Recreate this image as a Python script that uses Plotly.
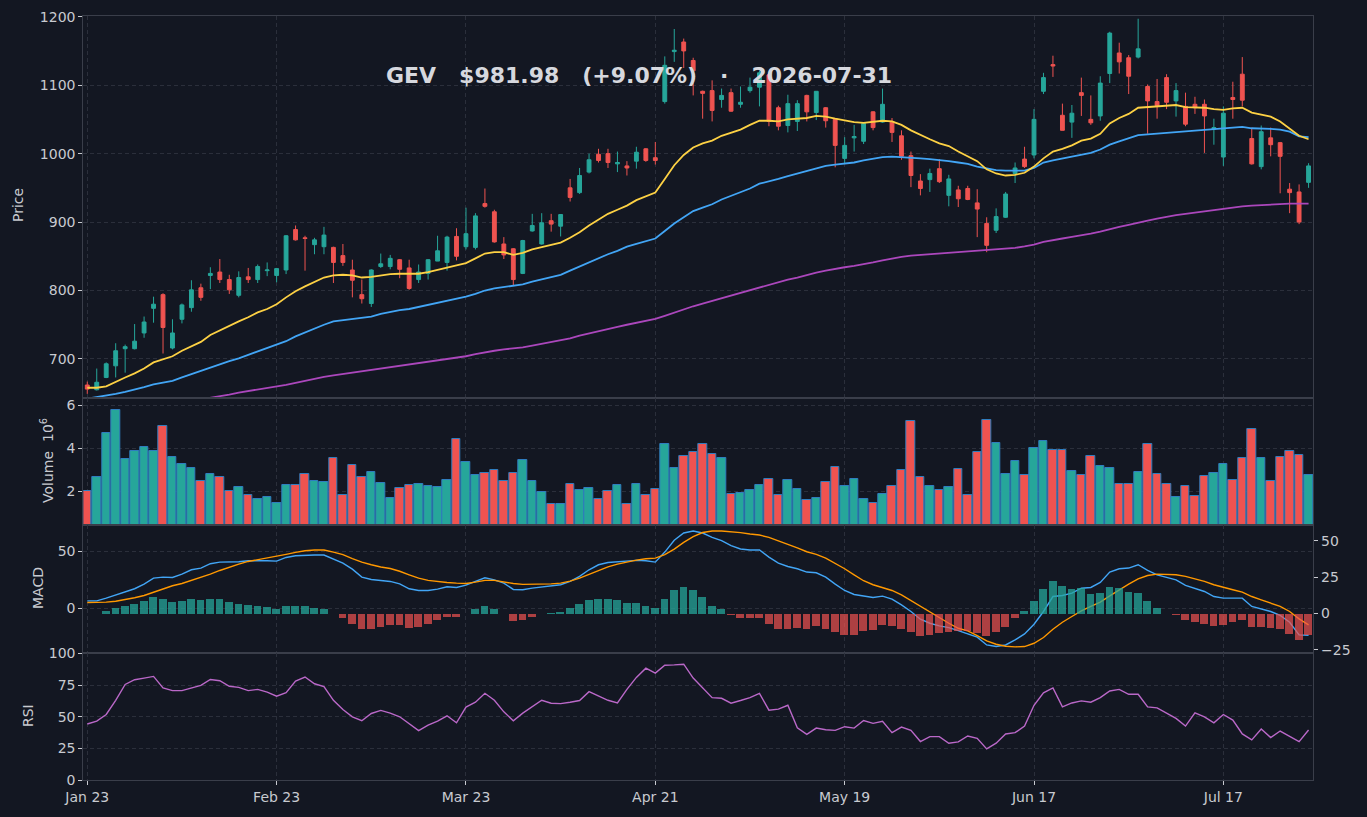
import plotly.graph_objects as go

# ---------------- data ----------------
tick_labels = ["Jan 23", "Feb 23", "Mar 23", "Apr 21", "May 19", "Jun 17", "Jul 17"]
tick_every = 20

open_ = [662,655,673,690,715,715,738,774,794,716,758,775,804,822,827,816,793,820,816,829,
         822,830,889,877,867,864,863,851,830,794,781,835,835,845,833,816,825,843,841,879,
         864,863,927,915,868,861,825,887,868,902,894,950,943,973,999,1000,985,982,989,1007,
         994,1076,1149,1163,1136,1091,1092,1079,1089,1072,1092,1097,1115,1067,1041,1047,1085,1060,1067,1051,
         993,1023,1018,1061,1046,1047,1026,997,960,962,978,939,947,949,928,898,888,907,971,992,
         998,1091,1130,1056,1046,1089,1050,1055,1117,1147,1140,1141,1098,1076,1111,1077,1069,1072,1072,1036,
         995,1082,1116,1022,981,1023,1016,948,944,958]
high = [667,686,695,723,721,751,762,791,796,758,781,815,810,834,846,823,828,833,838,841,
        833,881,895,880,877,893,864,868,845,816,831,854,852,846,845,838,846,880,880,891,
        921,913,949,918,878,862,874,912,913,912,911,963,979,1000,1007,1007,1003,989,1010,1008,
        1017,1142,1182,1168,1140,1092,1107,1095,1095,1098,1111,1121,1118,1070,1086,1078,1086,1091,1068,1052,
        1024,1042,1045,1062,1095,1052,1034,1003,970,978,992,969,953,953,948,907,920,944,987,1010,
        1065,1118,1143,1073,1071,1111,1085,1113,1178,1162,1144,1197,1101,1109,1116,1103,1089,1083,1079,1051,
        1069,1105,1141,1038,1041,1038,1017,957,955,986]
low = [649,654,672,673,680,714,731,753,708,714,752,769,785,802,811,795,790,811,811,821,
       812,824,873,829,853,853,811,836,790,781,776,833,831,818,801,811,816,843,829,844,
       860,860,921,870,846,807,824,886,867,886,879,930,941,971,987,979,973,968,978,988,
       984,1073,1134,1125,1085,1051,1047,1067,1061,1067,1089,1069,1040,1034,1031,1033,1047,1049,1038,980,
       985,1003,1014,1034,1045,1017,991,951,939,944,957,923,922,932,878,856,884,906,957,979,
       993,1087,1112,1034,1023,1055,1042,1048,1103,1117,1087,1139,1029,1051,1065,1054,1040,1058,1001,1013,
       982,1051,1069,984,977,996,942,913,897,950]
close = [656,666,693,712,718,726,754,780,746,738,779,801,790,825,816,801,819,816,835,830,
         832,880,874,876,874,881,841,841,815,788,830,839,847,831,803,827,845,858,878,850,
         883,909,923,871,852,816,873,895,899,897,911,936,968,991,990,987,987,979,1002,990,
         990,1129,1151,1150,1121,1088,1063,1085,1062,1075,1097,1118,1047,1040,1073,1073,1061,1091,1048,1012,
         1012,1025,1044,1038,1072,1031,996,968,949,971,959,963,934,933,919,866,908,941,979,981,
         1050,1111,1128,1034,1059,1085,1045,1103,1176,1134,1113,1153,1077,1070,1075,1092,1043,1067,1055,1038,
         1059,1079,1078,985,1032,1013,996,943,900,982]

ma_fast = [658,658,660,667,673,679,686,695,700,704,712,719,725,735,742,749,755,761,768,773,
           780,790,799,806,812,819,822,823,822,819,820,822,824,824.5,824,824.5,827,830,834,836,
           840,847,854,856,856,852,855,860,863,866,870,877,885,895,903,912,918,924,932,938,
           943,963,983,998,1009,1015,1019,1026,1030,1035,1042,1048,1048,1047,1050,1051,1052,1055,1054,1051,
           1048,1046,1045,1046,1048,1047,1042,1034,1027,1021,1015,1011,1003,996,989,977,971,968,969,972,
           981,993,1003,1007,1012,1019,1022,1029,1044,1052,1058,1067,1068,1069,1069,1071,1068,1068,1067,1065,
           1064,1066,1067,1060,1057,1054,1047,1036,1026,1021]
ma_mid = [642,644,647,649,652,655,659,663,666,668,673,678,682,688,693,697,701,706,711,715,
          720,726,733,739,745,750,755,757,759,760,762,766,769,771.5,773,776,778,781,784,787,
          791,795,800,803,805,806,809,813,816,820,823,829,835,841,848,853,858,864,868,872,
          876,887,898,907,916,921,926,933,938,943,949,956,959,963,967,971,975,979,982,984,
          985,987,990,993,995,995.5,995,994,993,992,991,989,987,985,981,978,976,975,974.5,975,
          979,987,990,993,996,999,1001,1006,1013,1018,1023,1027,1028,1029,1031,1032,1033,1034,1035,1035,
          1036,1038,1039,1037,1037,1036,1035,1032,1025,1024]
ma_slow = [613,615,617,619,621,624,626,628,631,633,636,638,641,643,646,648,651,653,656,658,
           660,662,665,668,672,674,676,678,679,681,683,685,687,689.5,691,693,695,697.5,699.5,702,
           704,707,710,712,714,715,717,719.5,722,724,727,730,734,737.5,741,744,747,750,753,756,
           758.5,763,768,773,777,781,785,789,793,797,801,805,809,812.5,816,819,823,826,829,832,
           834,836,838,841,844,847,849,851,852,853,854.5,855.5,856.5,857.5,858.5,859,859.5,861,862.3,864.4,
           867,871,874,876,878.5,880.5,883,886,890,893,896,899.5,902,905,908,910,912,914,916,917,
           919,921,923,924,925,926,927,927,927,927]

volume_m = [2.0,2.65,4.70,5.77,3.49,3.86,4.05,3.86,5.02,3.58,3.25,3.07,2.46,2.79,2.65,2.0,2.19,1.81,1.63,1.72,
            1.44,2.28,2.28,2.79,2.46,2.42,3.53,1.81,3.21,2.65,2.88,2.37,1.69,2.14,2.28,2.32,2.23,2.19,2.51,4.42,
            3.35,2.74,2.84,2.98,2.46,2.84,3.44,2.46,1.95,1.39,1.39,2.32,2.05,2.14,1.63,2.0,2.28,1.39,2.32,1.81,
            2.09,4.19,3.07,3.63,3.81,4.19,3.72,3.53,1.86,1.91,2.05,2.28,2.56,1.81,2.51,2.09,1.58,1.67,2.42,3.12,
            2.23,2.56,1.63,1.44,1.86,2.23,2.98,5.25,2.65,2.23,2.05,2.19,3.02,1.81,3.81,5.30,4.23,2.79,3.39,2.74,
            4.0,4.32,3.91,3.91,2.93,2.74,3.63,3.16,3.07,2.32,2.32,2.88,4.19,2.79,2.32,1.72,2.23,1.77,2.70,2.84,
            3.25,2.51,3.53,4.88,3.53,2.46,3.58,3.86,3.67,2.74]

macd = [6.7,6.7,9.1,12,14.6,17.3,21.3,26.6,27.5,27.2,30.1,33.9,35.4,39.2,40.6,40.6,40.9,41.8,42.1,41.8,
        41.5,44.7,46.2,46.8,46.8,46.8,43.3,39.8,34.5,27.5,25.4,24.3,23.7,21.6,17.3,15.8,15.8,17,19,18.4,
        20.5,23.7,26.9,25.1,22.2,16.7,16.4,17.8,19,19.6,20.8,23.7,28.1,33.9,38.3,40.3,40.9,40.9,42.1,41.8,
        40.6,49.4,59.7,66.1,67.8,66.1,62.3,59.4,55,52.1,51.2,51.2,45,39.8,36.8,34.8,31.9,31.3,27.5,21.3,
        15.8,12.3,10.8,9.6,10.8,8.2,3.2,-2.6,-9.4,-12.9,-15.2,-16.7,-19.3,-21.9,-25.1,-31.9,-33.3,-31.9,-27.5,-22.2,
        -13.7,-2.6,10.5,11.4,13.5,17.8,18.4,22.8,31.9,34.8,35.4,38.3,33.3,29.5,27.2,25.1,20.2,17.8,14.9,10.5,
        9.1,9.1,9.1,1.8,-0.3,-2.6,-6.1,-12,-23.1,-23.4]
signal = [5.3,5.3,5.6,6.4,7.6,9.4,11.4,14.3,17.3,19.9,21.9,24.6,27.2,30.1,33.3,36.3,38.9,41.2,42.7,44.1,
          45.3,47.4,49.1,50.6,51.2,51.2,49.4,47.1,43.6,40.6,38.3,36.3,35,32.6,29.5,26.6,24.6,23.4,22.8,22.2,
          21.9,23.1,24.6,24.6,23.1,21.9,21.1,21.1,21.1,21.6,22.2,24,26.6,30.1,33.3,36.5,38.9,40.9,42.4,43.6,
          44.1,47.1,52,57.9,62.9,66.5,67.8,67.8,67.3,66.4,65.2,64.3,62.3,59.4,55.9,53,49.7,47.4,44.1,39.8,
          34.8,29.5,24.3,20.8,18.4,15.8,12,7,1.8,-3.2,-7.9,-12.9,-17.3,-19.6,-23.7,-28.4,-31.3,-33,-33.6,-33.3,
          -30.4,-25.4,-18.1,-12,-7,-2,1.8,5.6,11.1,16.4,21.3,26,28.9,30.1,30.1,29.5,28.1,26,23.7,20.8,
          18.4,16.4,14.3,10.5,7.6,4.7,1.8,-2.6,-9.1,-14.3]
hist = [-0.4,-0.4,1.6,3.5,4.9,6.3,8.3,11.1,9.7,7.6,8.3,9.7,9.0,9.7,9.7,7.6,6.3,5.6,4.9,4.2,
        2.8,4.9,4.9,4.9,3.5,2.8,-0.4,-3.4,-6.9,-10.3,-10.3,-9.0,-7.6,-7.6,-9.6,-9.0,-6.9,-4.6,-2.1,-2.1,
        -0.2,2.8,4.9,2.8,-0.4,-4.8,-4.1,-2.1,-0.4,0.2,1.4,3.5,6.3,9.0,10.3,9.7,9.0,6.9,6.9,4.9,
        3.5,10.3,15.9,17.9,15.9,11.1,5.5,3.0,-1.1,-3.4,-3.4,-2.8,-6.9,-10.3,-10.3,-9.6,-10.3,-8.3,-10.3,-13,
        -14.4,-14.4,-12.3,-11,-7.6,-8.3,-10.3,-13,-15.1,-14.4,-13.7,-13,-12.3,-12.3,-13.7,-15.1,-13,-9,-2.8,1.6,
        8.5,16.6,22.1,18.9,16.6,17.3,13.1,13.8,18,17.3,14.5,13.8,8.3,3.5,0,-0.9,-4.6,-6,-7.3,-8.7,
        -8,-6,-4.6,-9.3,-9.3,-10,-10.7,-14.2,-18.3,-14.8]
rsi = [44.3,46.6,51.8,63,75.5,79.2,80.5,81.8,72.7,70.6,70.6,72.9,74.7,79.4,78.4,74,73.2,70.6,71.6,69.5,
       66.2,69,78.1,81.3,76,73.7,63,55.7,50,46.9,52.6,55,52.9,50,44.8,39.1,43.5,46.6,50.8,45.3,
       57.6,61.5,68.5,63,53.9,46.9,52.9,58.1,63,60.7,60.4,61.5,62.8,69.8,66.4,63,61,71.6,81,88.3,
       84.4,90.6,90.9,91.4,80.5,72.5,65.1,64.6,60.7,62.8,65.1,68.5,55.2,56,59.1,41.4,36.2,41.1,39.8,39.3,
       42.2,41.1,47.1,44.8,46.4,37.5,41.9,39.3,30.5,34.4,34.4,29.2,30.2,34.9,33.1,24.7,29.2,36.5,37.5,42.7,
       59.1,68.8,72.7,57.8,60.9,62.5,61.5,65.1,70.3,71.6,67.7,67.7,57.8,57,52.6,48.7,42.7,53.1,50,45.3,
       51.8,47.4,36.5,31.8,40.4,33.6,38.8,34.4,30.5,39.6]

title_text = "GEV\u00a0\u00a0\u00a0$981.98\u00a0\u00a0\u00a0(+9.07%)\u00a0\u00a0\u00a0·\u00a0\u00a0\u00a02026-07-31"

# ---------------- styling ----------------
BG = "#131722"
GRID = "#2b2f3b"
SPINE = "#3a3e4a"
TXT = "#c8cad0"
UP = "#26a69a"
DOWN = "#ef5350"
FONT = "DejaVu Sans"

n = len(close)
idx = list(range(n))
tick_pos = [i * tick_every for i in range(len(tick_labels))]
vol_colors = [UP if c >= o else DOWN for o, c in zip(open_, close)]
hist_colors = ["rgba(38,166,154,0.75)" if h >= 0 else "rgba(239,83,80,0.7)" for h in hist]

W, H = 1367, 817
def px_x(p):
    return p / W
def px_y(p):
    return 1 - p / H

xdom = [px_x(83.3), px_x(1313.3)]
dom_price = [px_y(398), px_y(16)]
dom_vol = [px_y(525), px_y(398)]
dom_macd = [px_y(653.3), px_y(525)]
dom_rsi = [px_y(780.3), px_y(653.3)]

fig = go.Figure()

fig.add_trace(go.Candlestick(
    x=idx, open=open_, high=high, low=low, close=close,
    xaxis="x", yaxis="y",
    increasing=dict(line=dict(color=UP, width=1), fillcolor=UP),
    decreasing=dict(line=dict(color=DOWN, width=1), fillcolor=DOWN),
    whiskerwidth=0, showlegend=False, hoverinfo="skip",
))
fig.add_trace(go.Scatter(x=idx, y=ma_slow, mode="lines", line=dict(color="#ab47bc", width=1.8),
                         xaxis="x", yaxis="y", showlegend=False, hoverinfo="skip"))
fig.add_trace(go.Scatter(x=idx, y=ma_mid, mode="lines", line=dict(color="#42a5f5", width=1.8),
                         xaxis="x", yaxis="y", showlegend=False, hoverinfo="skip"))
fig.add_trace(go.Scatter(x=idx, y=ma_fast, mode="lines", line=dict(color="#fdd144", width=1.8),
                         xaxis="x", yaxis="y", showlegend=False, hoverinfo="skip"))

fig.add_trace(go.Bar(x=idx, y=volume_m, width=0.9, marker=dict(color=vol_colors,
                     line=dict(color="#2f7dbf", width=1)),
                     xaxis="x2", yaxis="y2", showlegend=False, hoverinfo="skip"))

fig.add_trace(go.Bar(x=idx, y=hist, width=0.82, marker=dict(color=hist_colors, line=dict(width=0)),
                     xaxis="x3", yaxis="y4", showlegend=False, hoverinfo="skip"))
fig.add_trace(go.Scatter(x=idx, y=macd, mode="lines", line=dict(color="#42a5f5", width=1.4),
                         xaxis="x3", yaxis="y3", showlegend=False, hoverinfo="skip"))
fig.add_trace(go.Scatter(x=idx, y=signal, mode="lines", line=dict(color="#ff9800", width=1.4),
                         xaxis="x3", yaxis="y3", showlegend=False, hoverinfo="skip"))

fig.add_trace(go.Scatter(x=idx, y=rsi, mode="lines", line=dict(color="#ba68c8", width=1.4),
                         xaxis="x4", yaxis="y5", showlegend=False, hoverinfo="skip"))

xrange_ = [-0.42, n - 0.5]
def xax(anchor, show):
    d = dict(domain=xdom, anchor=anchor, range=xrange_, tickvals=tick_pos, ticktext=tick_labels,
             showgrid=True, gridcolor=GRID, griddash="4px,3px", gridwidth=1, automargin=False,
             showline=True, linecolor=SPINE, linewidth=1, mirror=True, zeroline=False,
             showticklabels=show, ticks="outside" if show else "", ticklen=4, tickcolor=TXT,
             tickfont=dict(family=FONT, size=14, color=TXT), rangeslider=dict(visible=False))
    return d

def yax(dom, rng, tv, anchor):
    return dict(domain=dom, anchor=anchor, range=rng, tickvals=tv, automargin=False,
                showgrid=True, gridcolor=GRID, griddash="4px,3px", gridwidth=1,
                showline=True, linecolor=SPINE, linewidth=1, mirror=True, zeroline=False,
                ticks="outside", ticklen=4, tickcolor=TXT,
                tickfont=dict(family=FONT, size=14, color=TXT))

fig.update_layout(
    width=W, height=H, margin=dict(l=0, r=0, t=0, b=0, pad=0), autosize=False,
    paper_bgcolor=BG, plot_bgcolor=BG, boxgap=0.42,
    font=dict(family=FONT, color=TXT, size=14),
    xaxis=xax("y", False), xaxis2=xax("y2", False), xaxis3=xax("y3", False), xaxis4=xax("y5", True),
    yaxis=yax(dom_price, [643, 1201], [700, 800, 900, 1000, 1100, 1200], "x"),
    yaxis2=yax(dom_vol, [0.43, 6.34], [2, 4, 6], "x2"),
    yaxis3=yax(dom_macd, [-39.2, 73.1], [0, 50], "x3"),
    yaxis4=dict(overlaying="y3", anchor="x3", side="right", range=[-27.3, 60.8], automargin=False,
                tickvals=[-25, 0, 25, 50], showgrid=False, zeroline=False, showline=False,
                ticks="outside", ticklen=4, tickcolor=TXT,
                tickfont=dict(family=FONT, size=14, color=TXT)),
    yaxis5=yax(dom_rsi, [0, 100], [0, 25, 50, 75, 100], "x4"),
    bargap=0,
)

ann = [
    dict(text=title_text, x=px_x(638.5), y=px_y(75), xref="paper", yref="paper", showarrow=False,
         xanchor="center", yanchor="middle", font=dict(family=FONT, size=22, color="#d6d8de", weight="bold")),
    dict(text="Price", x=px_x(18), y=px_y(205), textangle=-90),
    dict(text="Volume\u00a0\u00a010<sup>6</sup>", x=px_x(47), y=px_y(461), textangle=-90),
    dict(text="MACD", x=px_x(38), y=px_y(588), textangle=-90),
    dict(text="RSI", x=px_x(28), y=px_y(716), textangle=-90),
]
for a in ann[1:]:
    a.update(xref="paper", yref="paper", showarrow=False, xanchor="center", yanchor="middle",
             font=dict(family=FONT, size=14, color=TXT))
fig.update_layout(annotations=ann)

fig.write_html("out.html")
